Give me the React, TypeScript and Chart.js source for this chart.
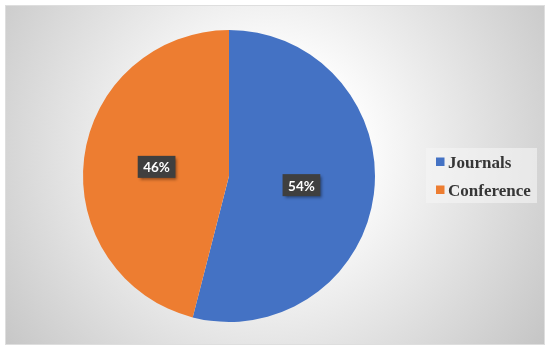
import React, { useEffect, useRef } from "react";
import { Chart, registerables } from "chart.js";

Chart.register(...registerables);

const categories = ["Journals", "Conference"];
const shares = [54, 46];
const sliceColors = ["#4472C4", "#ED7D31"];

const backgroundPlugin = {
  id: "bgFrame",
  beforeDraw(chart: any) {
    const ctx = chart.ctx;
    ctx.save();
    ctx.fillStyle = "#ffffff";
    ctx.fillRect(0, 0, chart.width, chart.height);
    const g = ctx.createRadialGradient(270, 150, 20, 270, 150, 340);
    g.addColorStop(0, "#ffffff");
    g.addColorStop(0.25, "#fbfbfb");
    g.addColorStop(1, "#c4c4c4");
    ctx.fillStyle = g;
    ctx.fillRect(5, 5, 540, 340);
    ctx.strokeStyle = "#dedede";
    ctx.lineWidth = 1;
    ctx.strokeRect(5.5, 5.5, 539, 339);
    ctx.restore();
  },
};

const labelPlugin = {
  id: "pctLabels",
  afterDatasetsDraw(chart: any) {
    const ctx = chart.ctx;
    const meta = chart.getDatasetMeta(0);
    const data = chart.data.datasets[0].data as number[];
    const total = data.reduce((a, b) => a + b, 0);
    ctx.save();
    ctx.font = "bold 13.5px Lato";
    ctx.textAlign = "center";
    ctx.textBaseline = "middle";
    meta.data.forEach((arc: any, i: number) => {
      const p = arc.tooltipPosition();
      const txt = Math.round((data[i] / total) * 100) + "%";
      const w = ctx.measureText(txt).width + 11;
      const h = 22;
      ctx.save();
      ctx.shadowColor = "rgba(0,0,0,0.45)";
      ctx.shadowBlur = 3;
      ctx.shadowOffsetX = 2;
      ctx.shadowOffsetY = 2;
      ctx.fillStyle = "#3f3f3f";
      ctx.fillRect(p.x - w / 2, p.y - h / 2, w, h);
      ctx.restore();
      ctx.fillStyle = "#ffffff";
      ctx.fillText(txt, p.x, p.y + 1);
    });
    ctx.restore();
  },
};

const legendPlugin = {
  id: "customLegend",
  afterDraw(chart: any) {
    const ctx = chart.ctx;
    const labels = chart.data.labels as string[];
    const colors = chart.data.datasets[0].backgroundColor as string[];
    ctx.save();
    ctx.fillStyle = "rgba(245,245,245,0.6)";
    ctx.fillRect(426, 148, 111, 55);
    ctx.font = "bold 17px 'Liberation Serif'";
    ctx.textAlign = "left";
    ctx.textBaseline = "alphabetic";
    labels.forEach((lab, i) => {
      const cy = 162 + i * 28;
      ctx.fillStyle = colors[i];
      ctx.fillRect(436, cy - 4.5, 8.5, 8.5);
      ctx.fillStyle = "#363636";
      ctx.fillText(lab, 448, cy + 6);
    });
    ctx.restore();
  },
};

export default function App() {
  const ref = useRef<HTMLCanvasElement | null>(null);
  useEffect(() => {
    if (!ref.current) return;
    const chart = new Chart(ref.current, {
      type: "pie",
      data: {
        labels: categories,
        datasets: [
          {
            data: shares,
            backgroundColor: sliceColors,
            borderWidth: 0,
          },
        ],
      },
      options: {
        responsive: false,
        animation: false,
        layout: { padding: { left: 83, right: 175, top: 30, bottom: 29 } },
        plugins: {
          legend: { display: false },
          tooltip: { enabled: false },
        },
      },
      plugins: [backgroundPlugin, labelPlugin, legendPlugin],
    });
    return () => chart.destroy();
  }, []);
  return (
    <div style={{ position: "absolute", left: 0, top: 0, width: 550, height: 351 }}>
      <canvas ref={ref} width={550} height={351} style={{ display: "block" }} />
    </div>
  );
}
